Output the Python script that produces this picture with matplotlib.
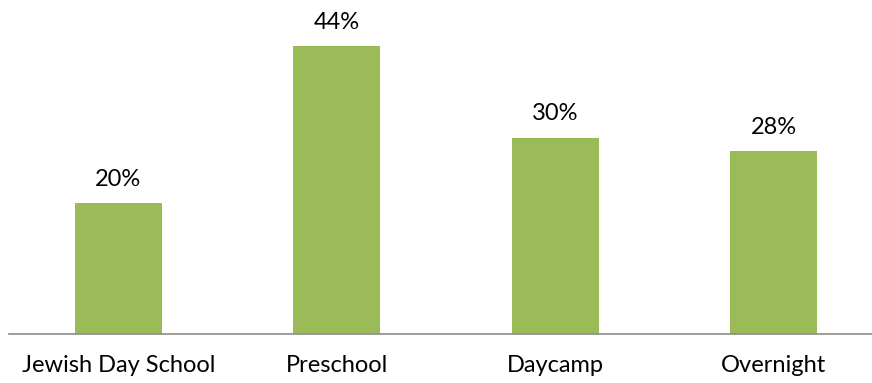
import matplotlib.pyplot as plt

categories = ["Jewish Day School", "Preschool", "Daycamp", "Overnight"]
values = [20, 44, 30, 28]

plt.rcParams['font.family'] = ['Lato', 'DejaVu Sans']

fig = plt.figure(figsize=(8.72, 3.83), dpi=100)
# axes placed to put the baseline at y~334 px and the first slot edge at x~9 px
ax = fig.add_axes([9 / 872, (383 - 334) / 383, 863 / 872, 334 / 383])

ax.bar(range(len(values)), values, width=0.4, color="#9BBB59")
for i, v in enumerate(values):
    ax.text(i, v + 2.0, f"{v}%", ha="center", va="bottom", fontsize=17, color="#000000")

ax.set_xlim(-0.5, 3.45)
ax.set_ylim(0, 51)
ax.set_xticks(range(len(categories)))
ax.set_xticklabels(categories, fontsize=17)
ax.tick_params(axis="x", length=0, pad=15)
ax.set_yticks([])
for s in ["top", "right", "left"]:
    ax.spines[s].set_visible(False)
ax.spines["bottom"].set_color("#8C8C8C")
ax.spines["bottom"].set_linewidth(1.2)

fig.savefig("out.png", dpi=100)
